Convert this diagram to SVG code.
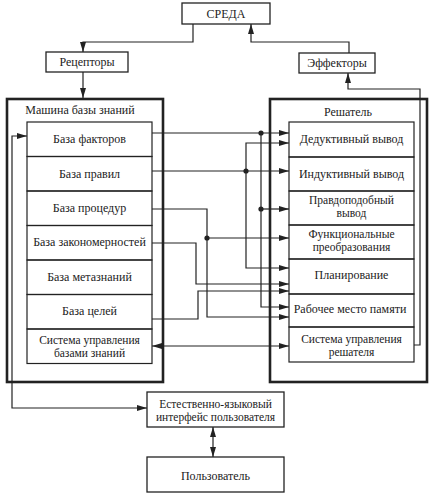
<svg xmlns="http://www.w3.org/2000/svg" width="433" height="495" viewBox="0 0 433 495">
<defs>
<style>
text{font-family:"Liberation Serif","DejaVu Serif",serif;font-size:12px;fill:#222;text-anchor:middle}
text.s{font-size:11.5px}
.box{fill:#fff;stroke:#222;stroke-width:1.3}
.outer{fill:none;stroke:#222;stroke-width:2.6}
.cell{fill:none;stroke:#222;stroke-width:1.2}
.c{fill:none;stroke:#222;stroke-width:1.2}
.dot{fill:#222}
</style>
<marker id="ah" viewBox="0 0 10 6" refX="10" refY="3" markerWidth="10" markerHeight="6" markerUnits="userSpaceOnUse" orient="auto-start-reverse">
<path d="M0,0 L10,3 L0,6 z" fill="#222"/>
</marker>
</defs>
<rect width="433" height="495" fill="#fff"/>

<g id="sreda"><rect class="box" x="182" y="3" width="88" height="21"/><text x="226" y="18">СРЕДА</text></g>
<g id="receptors"><rect class="box" x="46" y="52" width="82" height="20"/><text x="87" y="66">Рецепторы</text></g>
<g id="effectors"><rect class="box" x="299" y="53" width="76" height="20"/><text x="337" y="67">Эффекторы</text></g>

<g id="kb-machine">
<rect class="outer" x="7" y="99" width="156" height="283"/>
<text x="80" y="114">Машина базы знаний</text>
<g id="kb-facts"><rect class="cell" x="27" y="122" width="125" height="34.5"/><text x="89.5" y="143">База факторов</text></g>
<g id="kb-rules"><rect class="cell" x="27" y="156.5" width="125" height="34.5"/><text x="89.5" y="178">База правил</text></g>
<g id="kb-procs"><rect class="cell" x="27" y="191" width="125" height="34.5"/><text x="89.5" y="212">База процедур</text></g>
<g id="kb-laws"><rect class="cell" x="27" y="225.5" width="125" height="34.5"/><text x="89.5" y="246">База закономерностей</text></g>
<g id="kb-meta"><rect class="cell" x="27" y="260" width="125" height="34.5"/><text x="89.5" y="281">База метазнаний</text></g>
<g id="kb-goals"><rect class="cell" x="27" y="294.5" width="125" height="34.5"/><text x="89.5" y="315">База целей</text></g>
<g id="kb-control"><rect class="cell" x="27" y="329" width="125" height="34.5"/><text class="s" x="89.5" y="343.5">Система управления</text><text class="s" x="89.5" y="356.5">базами знаний</text></g>
</g>

<g id="solver">
<rect class="outer" x="270" y="99" width="157" height="283"/>
<text x="348" y="116">Решатель</text>
<g id="s-deduct"><rect class="cell" x="289" y="122" width="125" height="35"/><text x="351.5" y="143">Дедуктивный вывод</text></g>
<g id="s-induct"><rect class="cell" x="289" y="157" width="125" height="34"/><text x="351.5" y="178">Индуктивный вывод</text></g>
<g id="s-plaus"><rect class="cell" x="289" y="191" width="125" height="34"/><text class="s" x="351.5" y="203.5">Правдоподобный</text><text class="s" x="351.5" y="216.5">вывод</text></g>
<g id="s-func"><rect class="cell" x="289" y="225" width="125" height="34"/><text class="s" x="351.5" y="238">Функциональные</text><text class="s" x="351.5" y="251">преобразования</text></g>
<g id="s-plan"><rect class="cell" x="289" y="259" width="125" height="35"/><text x="351.5" y="279">Планирование</text></g>
<g id="s-memory"><rect class="cell" x="289" y="294" width="125" height="33"/><text x="350" y="313">Рабочее место памяти</text></g>
<g id="s-control"><rect class="cell" x="289" y="327" width="125" height="35"/><text class="s" x="351.5" y="342.5">Система управления</text><text class="s" x="351.5" y="355.5">решателя</text></g>
</g>

<g id="interface"><rect class="box" x="147" y="392" width="137" height="35"/><text class="s" x="215.5" y="407.5">Естественно-языковый</text><text class="s" x="215.5" y="420.5">интерфейс пользователя</text></g>
<g id="user"><rect class="box" x="147" y="457" width="137" height="35"/><text x="215.5" y="480">Пользователь</text></g>

<g id="connectors">
<path class="c" d="M193 24 V42 H83 V52" marker-end="url(#ah)"/>
<path class="c" d="M83 72 V98" marker-end="url(#ah)"/>
<path class="c" d="M349 53 V42 H251 V24" marker-end="url(#ah)"/>
<path class="c" d="M414 345 H420 V89 H348 V73" marker-end="url(#ah)"/>
<path class="c" d="M147 408 H12 V136 H27" marker-start="url(#ah)" marker-end="url(#ah)"/>
<path class="c" d="M152 133 H289" marker-end="url(#ah)"/>
<path class="c" d="M261 133 V307 H289" marker-end="url(#ah)"/>
<path class="c" d="M261 209 H289" marker-end="url(#ah)"/>
<path class="c" d="M246 171 V143 H289" marker-end="url(#ah)"/>
<path class="c" d="M246 171 V268 H289" marker-end="url(#ah)"/>
<path class="c" d="M152 171 H289" marker-end="url(#ah)"/>
<path class="c" d="M152 209 H207 V317 H289" marker-end="url(#ah)"/>
<path class="c" d="M207 238 H289" marker-end="url(#ah)"/>
<path class="c" d="M152 243 H196 V284 H289" marker-end="url(#ah)"/>
<path class="c" d="M152 319 H198 V291 H289" marker-end="url(#ah)"/>
<path class="c" d="M152 346 H289" marker-start="url(#ah)" marker-end="url(#ah)"/>
<path class="c" d="M213 427 V457" marker-start="url(#ah)" marker-end="url(#ah)"/>
<circle class="dot" cx="261" cy="133" r="2.6"/>
<circle class="dot" cx="261" cy="209" r="2.6"/>
<circle class="dot" cx="246" cy="171" r="2.6"/>
<circle class="dot" cx="207" cy="238" r="2.6"/>
</g>
</svg>
